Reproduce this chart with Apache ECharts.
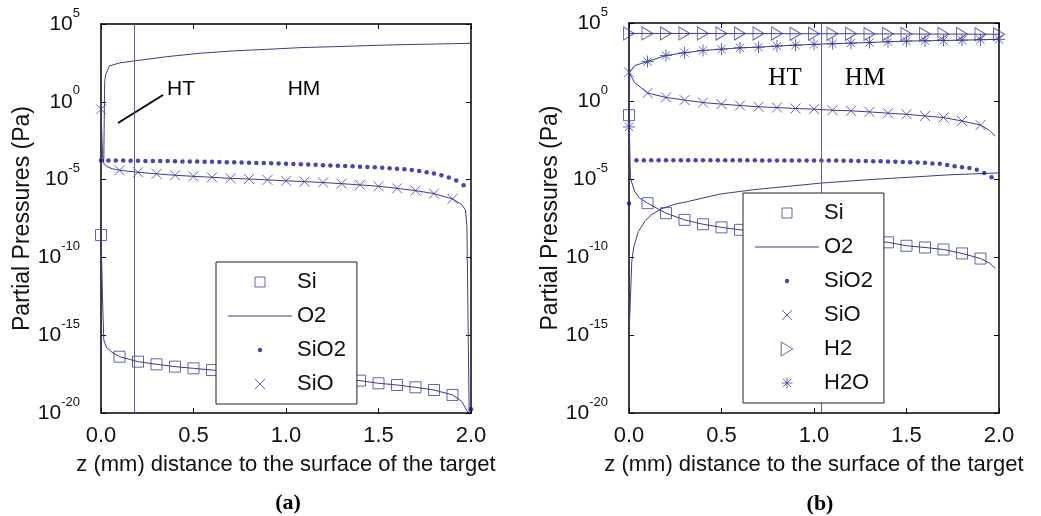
<!DOCTYPE html>
<html>
<head>
<meta charset="utf-8">
<script src="https://cdn.jsdelivr.net/npm/echarts@6/dist/echarts.min.js"></script>
<style>
  html, body { margin: 0; padding: 0; background: #fff; }
  #chart { width: 1041px; height: 516px; }
</style>
</head>
<body>
<div id="chart"></div>
<script>
// values are log10 of the partial pressure (Pa)
const zMarks = [0, 0.1, 0.2, 0.3, 0.4, 0.5, 0.6, 0.7, 0.8, 0.9, 1.0, 1.1, 1.2, 1.3, 1.4, 1.5, 1.6, 1.7, 1.8, 1.9];
const zMarksFull = [0, 0.1, 0.2, 0.3, 0.4, 0.5, 0.6, 0.7, 0.8, 0.9, 1.0, 1.1, 1.2, 1.3, 1.4, 1.5, 1.6, 1.7, 1.8, 1.9, 2.0];
const zDots = [0, 0.04, 0.08, 0.12, 0.16, 0.2, 0.24, 0.28, 0.32, 0.36, 0.4, 0.44, 0.48, 0.52, 0.56, 0.6, 0.64,
  0.68, 0.72, 0.76, 0.8, 0.84, 0.88, 0.92, 0.96, 1.0, 1.04, 1.08, 1.12, 1.16, 1.2, 1.24, 1.28, 1.32, 1.36,
  1.4, 1.44, 1.48, 1.52, 1.56, 1.6, 1.64, 1.68, 1.72, 1.76, 1.8, 1.84, 1.88, 1.92, 1.96, 2.0];

// panel (a)
const o2LineA = [[0.015, -3.8], [0.02, 1.3], [0.025, 1.75], [0.045, 2.3], [0.1, 2.5], [0.175, 2.62], [0.355, 2.9],
  [0.535, 3.12], [0.715, 3.27], [0.895, 3.37], [1.075, 3.48], [1.255, 3.54], [1.436, 3.61], [1.616, 3.67],
  [1.796, 3.71], [2.0, 3.76]];
const siMarkA = [-8.56, -16.38, -16.7, -16.87, -17.02, -17.13, -17.24, -17.33, -17.42, -17.5, -17.58, -17.66,
  -17.74, -17.83, -17.92, -18.09, -18.2, -18.35, -18.52, -18.84];
const siExtraA = [[0.008, -12.5], [0.015, -15.3], [0.03, -15.8], [0.06, -16.1], [1.95, -19.25], [1.98, -19.9], [1.99, -20]];
const sioMarkA = [-0.48, -4.4, -4.53, -4.63, -4.72, -4.79, -4.85, -4.92, -4.96, -5.02, -5.08, -5.13, -5.19,
  -5.26, -5.34, -5.43, -5.56, -5.71, -5.9, -6.24];
const sioExtraA = [[0.008, -3.4], [0.015, -3.95], [0.03, -4.15], [0.06, -4.3], [1.95, -6.6], [1.97, -6.95], [1.978, -8], [1.99, -20]];
const sio2DotsA = [-3.77, -3.77, -3.78, -3.78, -3.79, -3.79, -3.8, -3.8, -3.81, -3.81, -3.82,
  -3.83, -3.83, -3.84, -3.85, -3.86, -3.87, -3.88, -3.89, -3.9, -3.92,
  -3.93, -3.94, -3.95, -3.97, -3.98, -4.0, -4.01, -4.03, -4.05, -4.07,
  -4.09, -4.11, -4.13, -4.15, -4.17, -4.19, -4.21, -4.24, -4.27, -4.3,
  -4.34, -4.39, -4.45, -4.52, -4.61, -4.72, -4.86, -5.05, -5.37, -19.76];
const boundaryA = 0.178;

// panel (b)
const o2LineB = [[0.003, -14.1], [0.015, -10.3], [0.025, -9.4], [0.05, -8.37], [0.085, -7.73], [0.12, -7.3],
  [0.175, -6.91], [0.25, -6.61], [0.32, -6.44], [0.49, -5.97], [0.67, -5.69], [1.04, -5.26], [1.3, -5.04],
  [1.75, -4.72], [2.0, -4.61]];
const siMarkB = [-0.91, -6.55, -7.19, -7.62, -7.9, -8.1, -8.26, -8.36, -8.46, -8.56, -8.66, -8.76, -8.86,
  -8.96, -9.06, -9.28, -9.39, -9.52, -9.77, -10.1];
const siExtraB = [[0.004, -3.0], [0.008, -4.94], [0.03, -5.79], [0.058, -6.23], [1.95, -10.4], [1.98, -10.74]];
const sioMarkB = [1.84, 0.51, 0.23, 0.06, -0.1, -0.2, -0.29, -0.37, -0.42, -0.48, -0.52, -0.59, -0.63,
  -0.7, -0.78, -0.85, -0.96, -1.06, -1.28, -1.54];
const sioExtraB = [[0.03, 1.19], [1.95, -1.9], [1.98, -2.25]];
const h2MarkB = [4.33, 4.33, 4.33, 4.33, 4.33, 4.32, 4.32, 4.32, 4.32, 4.31, 4.31, 4.31, 4.31, 4.3, 4.3,
  4.3, 4.29, 4.29, 4.29, 4.28, 4.28];
const h2oMarkB = [-1.66, 2.53, 2.92, 3.09, 3.24, 3.32, 3.41, 3.45, 3.52, 3.58, 3.63, 3.67, 3.71, 3.75, 3.8,
  3.84, 3.86, 3.88, 3.9, 3.93, 3.95];
const h2oExtraB = [[0.004, 1.84], [0.03, 2.27]];
const sio2DotsB = [-6.57, -3.8, -3.8, -3.8, -3.8, -3.8, -3.8, -3.8, -3.8, -3.8, -3.8,
  -3.8, -3.8, -3.8, -3.8, -3.8, -3.8, -3.8, -3.81, -3.81, -3.81,
  -3.81, -3.81, -3.81, -3.81, -3.82, -3.82, -3.82, -3.82, -3.83, -3.83,
  -3.84, -3.85, -3.86, -3.87, -3.88, -3.89, -3.91, -3.92, -3.94, -3.96,
  -4.0, -4.03, -4.1, -4.18, -4.25, -4.29, -4.4, -4.61, -4.89];
const boundaryB = 1.04;

const LINE_C = '#3a3c8e';
const MARK_C = '#3b3e9c';
const DOT_C = '#1616a2';
const AXIS_C = '#000';
const FONT = 'Liberation Sans, Arial, sans-serif';
const SERIF = 'Liberation Serif, Times New Roman, serif';

const X_SYM = 'path://M0,0L10,10M10,0L0,10';
const STAR_SYM = 'path://M5,0L5,10M0,5L10,5M1.6,1.6L8.4,8.4M8.4,1.6L1.6,8.4';
const TRI_SYM = 'path://M0,0L10,6L0,12Z';
// legend icons: the leading moves set the box so the mark keeps a small size
const SQ_ICON = 'path://M0,0M14,14M2,2H12V12H2Z';
const X_ICON = 'path://M0,0M14,14M2,2L12,12M12,2L2,12';
const STAR_ICON = 'path://M0,0M14,14M7,1.5L7,12.5M1.5,7L12.5,7M3,3L11,11M11,3L3,11';
const DOT_ICON = 'path://M0,0M14,14M7,4.8A2.2,2.2,0,1,1,7,9.2A2.2,2.2,0,1,1,7,4.8Z';
const LINE_ICON = 'path://M0,0H64V1.2H0Z';

function toP(pairs) { return pairs.map(p => [p[0], Math.pow(10, p[1])]); }
function zip(z, v) { return z.map((x, i) => [x, v[i]]); }
function curve(z, v, extra) {
  return toP(zip(z, v).concat(extra).sort((a, b) => a[0] - b[0]));
}

function lineSeries(name, data, k, extra) {
  return Object.assign({
    name: name, type: 'line', xAxisIndex: k, yAxisIndex: k, data: data,
    showSymbol: false, symbol: 'none', clip: false, z: 2,
    lineStyle: { color: LINE_C, width: 1 }, itemStyle: { color: LINE_C }
  }, extra || {});
}
function markSeries(name, data, k, symbol, size) {
  return {
    name: name, type: 'scatter', xAxisIndex: k, yAxisIndex: k, data: data, clip: false,
    symbol: symbol, symbolSize: size, z: 3,
    itemStyle: { color: 'rgba(0,0,0,0)', borderColor: MARK_C, borderWidth: 1 }
  };
}
function dotSeries(data, k) {
  return {
    name: 'SiO2', type: 'scatter', xAxisIndex: k, yAxisIndex: k, data: data, clip: false,
    symbol: 'circle', symbolSize: 4.5, z: 3, itemStyle: { color: DOT_C }
  };
}
function vline(v) {
  return {
    silent: true, symbol: 'none', label: { show: false },
    lineStyle: { color: '#5c5f9c', width: 1, type: 'solid' },
    data: [{ xAxis: v }]
  };
}

function xAx(k, pos) {
  const main = pos === 'bottom';
  return {
    type: 'value', gridIndex: k, position: pos, min: 0, max: 2, interval: 0.5,
    axisLine: { show: true, onZero: false, lineStyle: { color: AXIS_C, width: 1.5 } },
    axisTick: { show: true, inside: true, length: 5, lineStyle: { color: AXIS_C, width: 1 } },
    splitLine: { show: false },
    axisLabel: { show: main, margin: 12, color: '#111', fontSize: 22, fontFamily: FONT,
      formatter: v => v.toFixed(1) },
    name: main ? 'z (mm) distance to the surface of the target' : '',
    nameLocation: 'middle', nameGap: 41,
    nameTextStyle: { color: '#111', fontSize: 22, fontFamily: FONT }
  };
}
function yAx(k, pos, gap) {
  const main = pos === 'left';
  return {
    type: 'log', logBase: 10, gridIndex: k, position: pos, min: 1e-20, max: 1e5, interval: 5,
    axisLine: { show: true, onZero: false, lineStyle: { color: AXIS_C, width: 1.5 } },
    axisTick: { show: true, inside: true, length: 5, lineStyle: { color: AXIS_C, width: 1 } },
    splitLine: { show: false }, minorTick: { show: false },
    axisLabel: {
      show: main, margin: 21, color: '#111', fontFamily: FONT,
      formatter: v => '{b|10}{s|' + Math.round(Math.log10(v)) + '}',
      rich: {
        b: { fontSize: 21, fontFamily: FONT, color: '#111' },
        s: { fontSize: 13, fontFamily: FONT, color: '#111', verticalAlign: 'top', padding: [0, 0, 22, 0] }
      }
    },
    name: main ? 'Partial Pressures (Pa)' : '',
    nameLocation: 'middle', nameGap: gap,
    nameTextStyle: { color: '#111', fontSize: 23, fontFamily: FONT }
  };
}

function legend(left, top, names) {
  const hollow = { color: 'rgba(0,0,0,0)', borderColor: MARK_C, borderWidth: 1 };
  const icons = {
    Si: { name: 'Si', icon: SQ_ICON, itemStyle: hollow },
    O2: { name: 'O2', icon: LINE_ICON, itemStyle: { color: LINE_C, borderWidth: 0 } },
    SiO2: { name: 'SiO2', icon: DOT_ICON, itemStyle: { color: DOT_C, borderWidth: 0 } },
    SiO: { name: 'SiO', icon: X_ICON, itemStyle: hollow },
    H2: { name: 'H2', icon: TRI_SYM, itemStyle: hollow },
    H2O: { name: 'H2O', icon: STAR_ICON, itemStyle: hollow }
  };
  return {
    orient: 'vertical', left: left, top: top, selectedMode: false, z: 10,
    padding: [9, 11, 9, 12], itemGap: 12, itemWidth: 64, itemHeight: 14,
    backgroundColor: '#fff', borderColor: '#222', borderWidth: 1,
    textStyle: { fontSize: 22, fontFamily: FONT, color: '#111' },
    data: names.map(n => icons[n])
  };
}

const chart = echarts.init(document.getElementById('chart'), null, { renderer: 'canvas' });

const option = {
  animation: false,
  backgroundColor: '#fff',
  grid: [
    { left: 101, top: 24, width: 370, height: 389 },
    { left: 629, top: 23, width: 370, height: 390 }
  ],
  xAxis: [xAx(0, 'bottom'), xAx(1, 'bottom'), xAx(0, 'top'), xAx(1, 'top')],
  yAxis: [yAx(0, 'left', 64), yAx(1, 'left', 58), yAx(0, 'right', 0), yAx(1, 'right', 0)],
  legend: [
    legend(216, 262, ['Si', 'O2', 'SiO2', 'SiO']),
    legend(743, 193, ['Si', 'O2', 'SiO2', 'SiO', 'H2', 'H2O'])
  ],
  graphic: [
    { type: 'line', shape: { x1: 118, y1: 123, x2: 163, y2: 95 }, style: { stroke: '#000', lineWidth: 2 }, z: 5 },
    { type: 'text', x: 181, y: 89, style: { text: 'HT', font: '21px ' + FONT, fill: '#000', align: 'center', verticalAlign: 'middle' } },
    { type: 'text', x: 304, y: 89, style: { text: 'HM', font: '21px ' + FONT, fill: '#000', align: 'center', verticalAlign: 'middle' } },
    { type: 'text', x: 785, y: 78, style: { text: 'HT', font: '25px ' + SERIF, fill: '#000', align: 'center', verticalAlign: 'middle' } },
    { type: 'text', x: 865, y: 78, style: { text: 'HM', font: '25px ' + SERIF, fill: '#000', align: 'center', verticalAlign: 'middle' } },
    { type: 'text', x: 288, y: 503, style: { text: '(a)', font: 'bold 22px ' + SERIF, fill: '#000', align: 'center', verticalAlign: 'middle' } },
    { type: 'text', x: 820, y: 504, style: { text: '(b)', font: 'bold 22px ' + SERIF, fill: '#000', align: 'center', verticalAlign: 'middle' } }
  ],
  series: [
    // (a)
    lineSeries('O2', toP(o2LineA), 0, { markLine: vline(boundaryA) }),
    lineSeries('Si curve', curve(zMarks, siMarkA, siExtraA), 0),
    markSeries('Si', toP(zip(zMarks, siMarkA)), 0, 'rect', 11),
    lineSeries('SiO curve', curve(zMarks, sioMarkA, sioExtraA), 0),
    markSeries('SiO', toP(zip(zMarks, sioMarkA)), 0, X_SYM, 10),
    dotSeries(toP(zip(zDots, sio2DotsA)), 0),
    // (b)
    lineSeries('O2', toP(o2LineB), 1, { markLine: vline(boundaryB) }),
    lineSeries('Si curve', curve(zMarks, siMarkB, siExtraB), 1),
    markSeries('Si', toP(zip(zMarks, siMarkB)), 1, 'rect', 11),
    lineSeries('SiO curve', curve(zMarks, sioMarkB, sioExtraB), 1),
    markSeries('SiO', toP(zip(zMarks, sioMarkB)), 1, X_SYM, 10),
    dotSeries(toP(zip([0].concat(zDots.slice(1, 50)), sio2DotsB)), 1),
    lineSeries('H2 curve', toP(zip(zMarksFull, h2MarkB)), 1),
    markSeries('H2', toP(zip(zMarksFull, h2MarkB)), 1, TRI_SYM, [11, 13]),
    lineSeries('H2O curve', curve(zMarksFull, h2oMarkB, h2oExtraB), 1),
    markSeries('H2O', toP(zip(zMarksFull, h2oMarkB)), 1, STAR_SYM, 12)
  ]
};

chart.setOption(option);
</script>
</body>
</html>
